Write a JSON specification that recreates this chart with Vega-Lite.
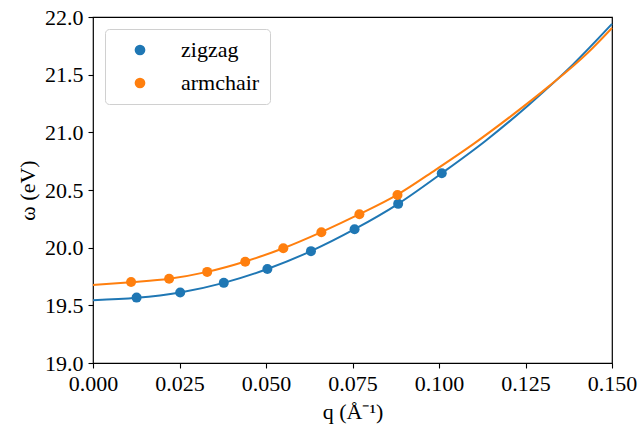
{
  "$schema": "https://vega.github.io/schema/vega-lite/v6.json",
  "width": 519,
  "height": 346,
  "autosize": {"type": "none"},
  "padding": {"left": 93, "top": 17, "right": 28, "bottom": 64},
  "background": "white",
  "datasets": {
    "curve": [
      {"q": 0.0, "omega": 19.545, "series": "zigzag"},
      {"q": 0.0126, "omega": 19.565, "series": "zigzag"},
      {"q": 0.0252, "omega": 19.612, "series": "zigzag"},
      {"q": 0.0378, "omega": 19.695, "series": "zigzag"},
      {"q": 0.0504, "omega": 19.815, "series": "zigzag"},
      {"q": 0.063, "omega": 19.97, "series": "zigzag"},
      {"q": 0.0756, "omega": 20.16, "series": "zigzag"},
      {"q": 0.0882, "omega": 20.38, "series": "zigzag"},
      {"q": 0.1008, "omega": 20.645, "series": "zigzag"},
      {"q": 0.1134, "omega": 20.925, "series": "zigzag"},
      {"q": 0.126, "omega": 21.24, "series": "zigzag"},
      {"q": 0.1386, "omega": 21.585, "series": "zigzag"},
      {"q": 0.15, "omega": 21.94, "series": "zigzag"},
      {"q": 0.0, "omega": 19.676, "series": "armchair"},
      {"q": 0.011, "omega": 19.7, "series": "armchair"},
      {"q": 0.022, "omega": 19.73, "series": "armchair"},
      {"q": 0.033, "omega": 19.79, "series": "armchair"},
      {"q": 0.044, "omega": 19.88, "series": "armchair"},
      {"q": 0.055, "omega": 19.995, "series": "armchair"},
      {"q": 0.066, "omega": 20.135, "series": "armchair"},
      {"q": 0.077, "omega": 20.29, "series": "armchair"},
      {"q": 0.088, "omega": 20.46, "series": "armchair"},
      {"q": 0.099, "omega": 20.675, "series": "armchair"},
      {"q": 0.11, "omega": 20.9, "series": "armchair"},
      {"q": 0.121, "omega": 21.145, "series": "armchair"},
      {"q": 0.132, "omega": 21.405, "series": "armchair"},
      {"q": 0.143, "omega": 21.69, "series": "armchair"},
      {"q": 0.15, "omega": 21.905, "series": "armchair"}
    ],
    "points": [
      {"q": 0.0126, "omega": 19.567, "series": "zigzag"},
      {"q": 0.0252, "omega": 19.612, "series": "zigzag"},
      {"q": 0.0378, "omega": 19.695, "series": "zigzag"},
      {"q": 0.0504, "omega": 19.815, "series": "zigzag"},
      {"q": 0.063, "omega": 19.97, "series": "zigzag"},
      {"q": 0.0756, "omega": 20.16, "series": "zigzag"},
      {"q": 0.0882, "omega": 20.38, "series": "zigzag"},
      {"q": 0.1008, "omega": 20.645, "series": "zigzag"},
      {"q": 0.011, "omega": 19.703, "series": "armchair"},
      {"q": 0.022, "omega": 19.73, "series": "armchair"},
      {"q": 0.033, "omega": 19.79, "series": "armchair"},
      {"q": 0.044, "omega": 19.878, "series": "armchair"},
      {"q": 0.055, "omega": 19.995, "series": "armchair"},
      {"q": 0.066, "omega": 20.133, "series": "armchair"},
      {"q": 0.077, "omega": 20.289, "series": "armchair"},
      {"q": 0.088, "omega": 20.456, "series": "armchair"}
    ]
  },
  "config": {
    "font": "Liberation Serif",
    "view": {"stroke": "black", "strokeWidth": 1.2},
    "axis": {
      "grid": false,
      "domain": false,
      "tickColor": "black",
      "tickSize": 5,
      "tickWidth": 1.1,
      "labelFont": "Liberation Serif",
      "labelFontSize": 22,
      "labelColor": "black",
      "titleFont": "Liberation Serif",
      "titleFontSize": 22,
      "titleFontWeight": "normal",
      "titleColor": "black"
    },
    "legend": {
      "labelFont": "Liberation Serif",
      "labelFontSize": 22,
      "labelColor": "black"
    }
  },
  "encoding": {
    "x": {
      "field": "q",
      "type": "quantitative",
      "scale": {"domain": [0, 0.15], "nice": false, "zero": false},
      "axis": {
        "title": "q (Å⁻¹)",
        "values": [0, 0.025, 0.05, 0.075, 0.1, 0.125, 0.15],
        "format": ".3f",
        "labelFlush": false,
        "labelPadding": 5,
        "titlePadding": 7
      }
    },
    "y": {
      "field": "omega",
      "type": "quantitative",
      "scale": {"domain": [19, 22], "nice": false, "zero": false},
      "axis": {
        "title": "ω (eV)",
        "values": [19, 19.5, 20, 20.5, 21, 21.5, 22],
        "format": ".1f",
        "labelFlush": false,
        "labelPadding": 5,
        "titlePadding": 5
      }
    },
    "color": {
      "field": "series",
      "type": "nominal",
      "scale": {"domain": ["zigzag", "armchair"], "range": ["#1f77b4", "#ff7f0e"]},
      "legend": {
        "title": null,
        "orient": "none",
        "legendX": 12,
        "legendY": 12,
        "symbolType": "circle",
        "symbolSize": 115,
        "symbolStrokeWidth": 0,
        "symbolOpacity": 1,
        "symbolOffset": 14,
        "labelOffset": 30,
        "labelExpr": "datum.label + '\u00a0\u00a0\u00a0'",
        "padding": 10,
        "rowPadding": 11,
        "strokeColor": "#d0d0d0",
        "fillColor": "white",
        "cornerRadius": 4
      }
    }
  },
  "layer": [
    {
      "data": {"name": "points"},
      "mark": {"type": "point", "filled": true, "size": 100, "opacity": 1}
    },
    {
      "data": {"name": "curve"},
      "mark": {"type": "line", "strokeWidth": 2, "interpolate": "monotone"},
      "encoding": {"detail": {"field": "series"}}
    }
  ]
}
